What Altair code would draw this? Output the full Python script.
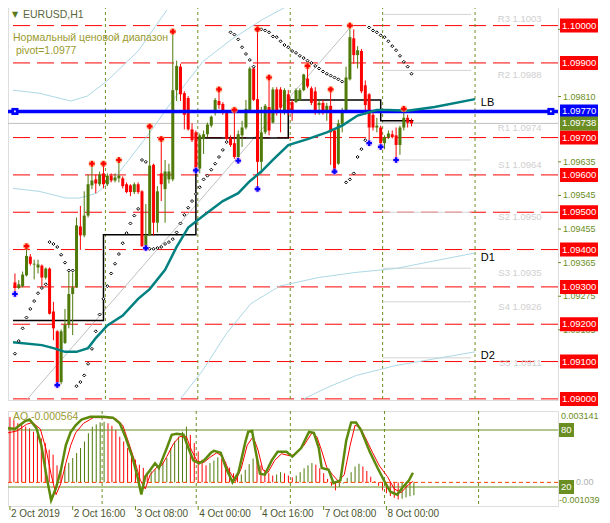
import altair as alt
import pandas as pd

OLIVE = "#6b8e23"
CGREEN = "#4f7a0a"
RED = "#ff0000"
FONT = "Liberation Sans"

# ---------------- candles (EURUSD H1, bar index 0 = 2 Oct 2019 00:00) ----------------
opens = [1.09312, 1.09297, 1.09302, 1.09331, 1.09381, 1.09360, 1.09352, 1.09357, 1.09325, 1.09349,
         1.09234, 1.09181, 1.09045, 1.09150, 1.09199, 1.09281, 1.09299, 1.09462, 1.09438, 1.09491,
         1.09572, 1.09588, 1.09575, 1.09604, 1.09575, 1.09598, 1.09585, 1.09591, 1.09591, 1.09575,
         1.09572, 1.09554, 1.09575, 1.09556, 1.09409, 1.09438, 1.09627, 1.09472, 1.09604, 1.09562,
         1.09588, 1.09588, 1.09827, 1.09890, 1.09819, 1.09806, 1.09722, 1.09714, 1.09617, 1.09696,
         1.09709, 1.09732, 1.09774, 1.09798, 1.09790, 1.09766, 1.09698, 1.09685, 1.09648, 1.09706,
         1.09727, 1.09772, 1.09885, 1.09803, 1.09635, 1.09714, 1.09782, 1.09740, 1.09829, 1.09829,
         1.09766, 1.09816, 1.09795, 1.09795, 1.09801, 1.09827, 1.09858, 1.09832, 1.09824, 1.09787,
         1.09793, 1.09766, 1.09785, 1.09719, 1.09630, 1.09735, 1.09772, 1.09856, 1.09966, 1.09921,
         1.09932, 1.09840, 1.09816, 1.09761, 1.09727, 1.09727, 1.09685, 1.09701, 1.09709, 1.09706,
         1.09680, 1.09727, 1.09753, 1.09745]
highs = [1.09336, 1.09318, 1.09341, 1.09409, 1.09388, 1.09373, 1.09373, 1.09360, 1.09352, 1.09352,
         1.09260, 1.09184, 1.09186, 1.09241, 1.09341, 1.09339, 1.09486, 1.09517, 1.09556, 1.09601,
         1.09630, 1.09601, 1.09609, 1.09630, 1.09604, 1.09604, 1.09604, 1.09640, 1.09596, 1.09580,
         1.09575, 1.09580, 1.09580, 1.09559, 1.09522, 1.09730, 1.09630, 1.09570, 1.09696, 1.09640,
         1.09630, 1.09984, 1.09906, 1.09898, 1.09824, 1.09811, 1.09738, 1.09719, 1.09711, 1.09719,
         1.09740, 1.09759, 1.09806, 1.09829, 1.09795, 1.09769, 1.09706, 1.09774, 1.09719, 1.09745,
         1.09801, 1.09890, 1.09890, 1.09990, 1.09782, 1.09790, 1.09861, 1.09835, 1.09835, 1.09835,
         1.09832, 1.09827, 1.09801, 1.09832, 1.09832, 1.09871, 1.09892, 1.09837, 1.09835, 1.09801,
         1.09801, 1.09793, 1.09829, 1.09722, 1.09748, 1.09780, 1.09890, 1.10000, 1.09990, 1.09945,
         1.09937, 1.09853, 1.09819, 1.09766, 1.09753, 1.09732, 1.09706, 1.09719, 1.09719, 1.09727,
         1.09732, 1.09777, 1.09761, 1.09751]
lows = [1.09281, 1.09294, 1.09299, 1.09328, 1.09357, 1.09320, 1.09336, 1.09302, 1.09320, 1.09226,
        1.09157, 1.09037, 1.09039, 1.09147, 1.09189, 1.09171, 1.09297, 1.09399, 1.09433, 1.09486,
        1.09562, 1.09551, 1.09570, 1.09564, 1.09570, 1.09580, 1.09580, 1.09580, 1.09564, 1.09551,
        1.09543, 1.09549, 1.09549, 1.09407, 1.09404, 1.09436, 1.09438, 1.09446, 1.09530, 1.09472,
        1.09577, 1.09583, 1.09798, 1.09798, 1.09722, 1.09719, 1.09688, 1.09612, 1.09604, 1.09656,
        1.09701, 1.09727, 1.09759, 1.09777, 1.09761, 1.09693, 1.09675, 1.09643, 1.09638, 1.09675,
        1.09722, 1.09769, 1.09798, 1.09562, 1.09604, 1.09709, 1.09706, 1.09738, 1.09759, 1.09714,
        1.09761, 1.09759, 1.09745, 1.09793, 1.09798, 1.09824, 1.09832, 1.09787, 1.09761, 1.09761,
        1.09761, 1.09745, 1.09627, 1.09609, 1.09627, 1.09714, 1.09769, 1.09853, 1.09898, 1.09885,
        1.09819, 1.09761, 1.09685, 1.09719, 1.09714, 1.09675, 1.09669, 1.09696, 1.09698, 1.09640,
        1.09654, 1.09719, 1.09727, 1.09730]
closes = [1.09297, 1.09307, 1.09333, 1.09383, 1.09362, 1.09362, 1.09360, 1.09325, 1.09349, 1.09228,
          1.09189, 1.09045, 1.09181, 1.09199, 1.09281, 1.09299, 1.09465, 1.09438, 1.09491, 1.09575,
          1.09585, 1.09577, 1.09601, 1.09575, 1.09598, 1.09585, 1.09593, 1.09598, 1.09570, 1.09554,
          1.09554, 1.09575, 1.09554, 1.09409, 1.09438, 1.09625, 1.09472, 1.09556, 1.09575, 1.09609,
          1.09609, 1.09827, 1.09892, 1.09816, 1.09761, 1.09722, 1.09693, 1.09617, 1.09706, 1.09709,
          1.09735, 1.09756, 1.09801, 1.09787, 1.09766, 1.09696, 1.09680, 1.09648, 1.09709, 1.09727,
          1.09777, 1.09885, 1.09801, 1.09635, 1.09714, 1.09785, 1.09719, 1.09829, 1.09766, 1.09780,
          1.09827, 1.09766, 1.09766, 1.09827, 1.09827, 1.09869, 1.09837, 1.09793, 1.09766, 1.09793,
          1.09766, 1.09785, 1.09714, 1.09614, 1.09738, 1.09772, 1.09861, 1.09969, 1.09921, 1.09934,
          1.09824, 1.09787, 1.09727, 1.09727, 1.09732, 1.09685, 1.09701, 1.09711, 1.09701, 1.09680,
          1.09727, 1.09753, 1.09740, 1.09738]
sar = [1.09121, 1.09155, 1.09189, 1.09218, 1.09241, 1.09262, 1.09283, 1.09297, 1.09307, 1.09420,
       1.09415, 1.09407, 1.09386, 1.09365, 1.09344, 1.09344, 1.09034, 1.09045, 1.09063, 1.09094,
       1.09134, 1.09181, 1.09226, 1.09268, 1.09302, 1.09336, 1.09362, 1.09388, 1.09417, 1.09444,
       1.09470, 1.09491, 1.09509, 1.09640, 1.09635, 1.09402, 1.09402, 1.09404, 1.09407, 1.09415,
       1.09420, 1.09428, 1.09446, 1.09470, 1.09493, 1.09512, 1.09530, 1.09549, 1.09567, 1.09588,
       1.09598, 1.09614, 1.09630, 1.09648, 1.09667, 1.09688, 1.09982, 1.09976, 1.09963, 1.09942,
       1.09924, 1.09908, 1.09890, 1.09992, 1.09990, 1.09987, 1.09982, 1.09971, 1.09969, 1.09958,
       1.09948, 1.09942, 1.09932, 1.09927, 1.09919, 1.09913, 1.09906, 1.09900, 1.09892, 1.09885,
       1.09877, 1.09871, 1.09866, 1.09861, 1.09856, 1.09850, 1.09580, 1.09588, 1.09604, 1.09648,
       1.09669, 1.09693, 1.09995, 1.09987, 1.09982, 1.09974, 1.09969, 1.09958, 1.09945, 1.09934,
       1.09919, 1.09903, 1.09890, 1.09871]
frac_up_idx = [3, 20, 23, 27, 35, 38, 41, 53, 57, 63, 66, 76, 82, 87, 101]
frac_dn_idx = [0, 11, 34, 47, 58, 63, 83, 92, 95, 99]

# AO histogram and stochastic
ao_vals = [0.00288, 0.00274, 0.00260, 0.00252, 0.00245, 0.00238, 0.00223, 0.00209, 0.00194, 0.00173,
           0.00144, 0.00122, 0.00075, 0.00049, 0.00071, 0.00086, 0.00107, 0.00129, 0.00151, 0.00180,
           0.00216, 0.00245, 0.00255, 0.00264, 0.00267, 0.00260, 0.00249, 0.00231, 0.00201, 0.00180,
           0.00151, 0.00129, 0.00100, 0.00078, 0.00064, 0.00042, 0.00049, 0.00057, 0.00071, 0.00086,
           0.00107, 0.00151, 0.00180, 0.00201, 0.00223, 0.00245, 0.00209, 0.00173, 0.00136, 0.00100,
           0.00075, 0.00085, 0.00096, 0.00110, 0.00104, 0.00090, 0.00065, 0.00040, 0.00028, 0.00035,
           0.00055, 0.00080, 0.00105, 0.00098, 0.00075, 0.00055, 0.00040, 0.00030, 0.00035, 0.00045,
           0.00040, 0.00030, 0.00022, 0.00030, 0.00045, 0.00062, 0.00075, 0.00085, 0.00078, 0.00062,
           0.00040, 0.00015, -0.00015, -0.00035, -0.00020, -0.00005, 0.00020, 0.00045, 0.00070, 0.00082,
           0.00070, 0.00050, 0.00025, 0.00005, -0.00015, -0.00035, -0.00048, -0.00060, -0.00068, -0.00075,
           -0.00072, -0.00066, -0.00061, -0.000564]
k_idx = [-0.5, 1.25, 3.75, 5, 6.75, 8, 9.25, 10.5, 11.75, 13, 14.25, 15.5, 16.75, 18.25, 20.5, 23.75,
         26.25, 28, 29.5, 31.25, 32.5, 33.5, 34.5, 35.75, 37, 38, 38.75, 40, 41.25, 42.5, 44.25, 45.5,
         46.75, 48.25, 49.5, 51.25, 52, 53.75, 55, 56.75, 58.25, 60, 60.75, 61.75, 62.5, 63.75, 65,
         66.75, 68.25, 70.5, 72, 74.25, 76.25, 77.5, 78.75, 79.5, 81.25, 82.5, 84.25, 85.75, 87, 88.25,
         89.5, 91.75, 93.75, 95.75, 97, 98.75, 100, 101.75, 102.75]
k_val = [82, 81, 89, 91, 82, 64, 33, 6, 19, 38, 64, 78, 85, 91, 94, 94,
         93, 87, 72, 51, 31, 12, 31, 38, 45, 40, 48, 61, 75, 76, 75, 61,
         48, 45, 48, 56, 58, 56, 41, 25, 35, 67, 78, 79, 61, 34, 33,
         48, 57, 57, 52, 61, 78, 77, 61, 40, 38, 24, 27, 69, 88, 88,
         80, 57, 40, 24, 15, 12, 19, 27, 35]
d_idx = [-0.5, 1.75, 4.25, 5.75, 7.75, 9.25, 10.5, 11.75, 13, 14.25, 15.5, 16.75, 18.75, 21.25, 24.5,
         27, 28.75, 30.25, 32, 33.25, 34.5, 35.75, 37.5, 38.75, 40, 41.75, 43.25, 45, 46.25, 47.75,
         49.5, 51.25, 52.75, 54.25, 55.75, 57.5, 59, 60.5, 62, 63.25, 64.5, 65.75, 67.5, 69.25, 71.25,
         72.75, 75, 77, 78.25, 79.5, 80.75, 82.25, 83.75, 85.25, 86.75, 88, 89.25, 90.5, 92.5, 94.25,
         96.25, 98, 99.75, 101.25, 102.75]
d_val = [77, 79, 86, 88, 81, 59, 33, 12, 24, 45, 64, 77, 87, 93, 93,
         92, 85, 67, 45, 27, 18, 33, 41, 43, 52, 66, 73, 73, 59, 47,
         46, 52, 56, 52, 38, 26, 40, 64, 73, 59, 38, 35, 48, 55, 53,
         54, 64, 77, 73, 58, 41, 33, 26, 33, 64, 85, 83, 73, 56, 42,
         31, 18, 14, 21, 26]

# overlays
ma_idx = [-0.5, 7, 10, 13, 16, 19, 21, 24, 28, 32, 35, 39, 42, 45, 49, 54, 58, 61, 64, 67, 71, 76,
          81, 85, 89, 94, 97, 102, 109, 119.5]
ma_val = [1.09152, 1.09144, 1.09136, 1.09126, 1.09126, 1.09136, 1.09163, 1.09197, 1.09223, 1.09268,
          1.09294, 1.09346, 1.09407, 1.09459, 1.09491, 1.09530, 1.09551, 1.09583, 1.09609, 1.09640,
          1.09680, 1.09696, 1.09714, 1.09732, 1.09759, 1.09774, 1.09774, 1.09772, 1.09782, 1.09803]
band_up_idx = [-0.5, 6.25, 14.5, 18.75, 23.75, 32, 39.5]
band_up_val = [1.09827, 1.09819, 1.09798, 1.09811, 1.09850, 1.09932, 1.10042]
band_mid_idx = [-0.5, 6.25, 13.25, 16.75, 21.25, 26.25, 34.5, 40.5, 48.75, 56.25, 64.25, 70]
band_mid_val = [1.09564, 1.09556, 1.09538, 1.09538, 1.09551, 1.09596, 1.09706, 1.09793, 1.09903,
                1.09963, 1.10016, 1.10048]
d1_idx = [43, 48.75, 55, 61.25, 68.75, 78.75, 88.75, 98.75, 119.5]
d1_val = [1.09000, 1.09076, 1.09176, 1.09255, 1.09302, 1.09325, 1.09339, 1.09349, 1.09391]
d2_idx = [75, 81.25, 88.75, 98.75, 119.5]
d2_val = [1.09000, 1.09031, 1.09063, 1.09089, 1.09126]
trend_idx = [3.25, 87.5]
trend_val = [1.09000, 1.10000]
step_idx = [-0.5, 23, 47, 71, 95, 103.5]
step_val = [1.09210, 1.09440, 1.09699, 1.09801, 1.09745, 1.09745]

red_levels = [1.10000, 1.09900, 1.09700, 1.09600, 1.09500, 1.09400, 1.09300, 1.09200, 1.09100, 1.09000]
lb_level = 1.09770
bid_level = 1.09738
pivot_names = ["R3", "R2", "R1", "S1", "S2", "S3", "S4", "S5"]
pivot_vals = [1.1003, 1.0988, 1.0974, 1.0964, 1.0950, 1.0935, 1.0926, 1.0911]
axis_ticks = [1.09990, 1.09810, 1.09635, 1.09545, 1.09455, 1.09365, 1.09275, 1.09185]
separators = [23.5, 47.5, 71.5, 95.5, 119.5]
time_ticks = [0, 16, 32, 48, 64, 80, 96]
time_labels = ["2 Oct 2019", "2 Oct 16:00", "3 Oct 08:00", "4 Oct 00:00", "4 Oct 16:00",
               "7 Oct 08:00", "8 Oct 00:00"]

# ---------------- layout ----------------
W, H1, H2 = 550, 394, 95
xs = alt.Scale(domain=[-0.5, 139.75], nice=False, zero=False)
ys = alt.Scale(domain=[1.08997, 1.100525], nice=False, zero=False)
aos = alt.Scale(domain=[-0.001039, 0.003141], nice=False, zero=False)
sts = alt.Scale(domain=[0, 100], nice=False, zero=False)
pxs = alt.Scale(domain=[0, H2], range=[0, H2])


def X(f="i"):
    return alt.X(f"{f}:Q", scale=xs, axis=None)


def Y(f, scale=ys):
    return alt.Y(f"{f}:Q", scale=scale, axis=None)


idx = list(range(len(opens)))
cdf = pd.DataFrame({"i": idx, "o": opens, "h": highs, "l": lows, "c": closes, "sar": sar})
cdf["dir"] = ["up" if c >= o else "down" for o, c in zip(opens, closes)]
cscale = alt.Scale(domain=["up", "down"], range=[CGREEN, RED])
ccol = alt.Color("dir:N", scale=cscale, legend=None)

lev_df = pd.DataFrame({"p": red_levels})
sep_df = pd.DataFrame({"s": separators})
piv_df = pd.DataFrame({"p": pivot_vals, "i0": [95.5] * 8, "i1": [118.5] * 8, "ix": [136.8] * 8,
                       "t": [f"{n} {v:.4f}" for n, v in zip(pivot_names, pivot_vals)]})

lines_rows = []
for g, ii, vv in [("up", band_up_idx, band_up_val), ("mid", band_mid_idx, band_mid_val),
                  ("d1", d1_idx, d1_val), ("d2", d2_idx, d2_val)]:
    for a, b in zip(ii, vv):
        lines_rows.append({"g": g, "i": a, "p": b})
lb_df = pd.DataFrame(lines_rows)
trend_df = pd.DataFrame({"i": trend_idx, "p": trend_val})
step_df = pd.DataFrame({"i": step_idx, "p": step_val})
ma_df = pd.DataFrame({"i": ma_idx, "p": ma_val})

fu_df = pd.DataFrame({"i": frac_up_idx, "p": [highs[k] for k in frac_up_idx]})
fd_df = pd.DataFrame({"i": frac_dn_idx, "p": [lows[k] for k in frac_dn_idx]})
tick_df = pd.DataFrame({"p": axis_ticks, "t": [f"{v:.5f}" for v in axis_ticks]})

layers = []
# right price scale (ticks + labels), drawn first so the level boxes cover some of them
layers.append(alt.Chart(tick_df).mark_rule(color=OLIVE, strokeWidth=1).encode(
    x=alt.value(W), x2=alt.value(W + 3), y=Y("p")))
layers.append(alt.Chart(tick_df).mark_text(align="left", baseline="middle", font=FONT, fontSize=9,
                                           color=OLIVE).encode(x=alt.value(W + 5), y=Y("p"), text="t:N"))
layers.append(alt.Chart(lev_df).mark_rule(color=RED, strokeWidth=1, strokeDash=[17, 7]).encode(y=Y("p")))
layers.append(alt.Chart(sep_df).mark_rule(color=OLIVE, strokeWidth=1, strokeDash=[3, 3]).encode(x=X("s")))
layers.append(alt.Chart(piv_df).mark_rule(color="#d3d3d3", strokeWidth=1).encode(
    x=X("i0"), x2="i1", y=Y("p")))
layers.append(alt.Chart(piv_df).mark_text(color="#cfcfcf", align="right", baseline="middle", dy=5,
                                          font=FONT, fontSize=9.5).encode(x=X("ix"), y=Y("p"), text="t:N"))
layers.append(alt.Chart(pd.DataFrame({"p": [bid_level]})).mark_rule(color="#c0c0c0", strokeWidth=1).encode(
    y=Y("p")))
layers.append(alt.Chart(lb_df).mark_line(color="#add8e6", strokeWidth=1).encode(
    x=X(), y=Y("p"), detail="g:N"))
layers.append(alt.Chart(trend_df).mark_line(color="#c0c0c0", strokeWidth=1).encode(x=X(), y=Y("p")))
layers.append(alt.Chart(step_df).mark_line(color="black", strokeWidth=1.5, interpolate="step-after").encode(
    x=X(), y=Y("p")))
layers.append(alt.Chart(cdf).mark_rule(strokeWidth=1).encode(x=X(), y=Y("l"), y2="h", color=ccol))
layers.append(alt.Chart(cdf).mark_bar(size=3).encode(x=X(), y=Y("o"), y2="c", color=ccol))
layers.append(alt.Chart(pd.DataFrame({"p": [lb_level]})).mark_rule(color="#0000ff", strokeWidth=3.5).encode(
    y=Y("p")))
sq_df = pd.DataFrame({"i": [0.0, 139.2], "p": [lb_level, lb_level]})
layers.append(alt.Chart(sq_df).mark_square(color="#0000ff", size=50, opacity=1).encode(x=X(), y=Y("p")))
layers.append(alt.Chart(sq_df).mark_square(color="white", size=3, opacity=1).encode(x=X(), y=Y("p")))
layers.append(alt.Chart(ma_df).mark_line(color="#008080", strokeWidth=2.5).encode(x=X(), y=Y("p")))
layers.append(alt.Chart(cdf).mark_point(shape="diamond", size=9, filled=True, fill="white", stroke="black",
                                        strokeWidth=1, opacity=1).encode(x=X(), y=Y("sar")))
layers.append(alt.Chart(fu_df).mark_circle(color="#ffa060", size=45, opacity=0.7).encode(x=X(), y=Y("p")))
layers.append(alt.Chart(fu_df).mark_point(shape="cross", filled=True, color=RED, size=30, opacity=1).encode(
    x=X(), y=Y("p")))
layers.append(alt.Chart(fd_df).mark_circle(color="#e0a0ff", size=45, opacity=0.7).encode(x=X(), y=Y("p")))
layers.append(alt.Chart(fd_df).mark_point(shape="cross", filled=True, color="#0000ff", size=30, opacity=1).encode(
    x=X(), y=Y("p")))

# line labels
lbl_df = pd.DataFrame({"i": [121.0, 121.0, 121.0], "p": [1.09793, 1.09378, 1.09115], "t": ["LB", "D1", "D2"]})
layers.append(alt.Chart(lbl_df).mark_text(align="left", baseline="middle", font=FONT, fontSize=11,
                                          color="black").encode(x=X(), y=Y("p"), text="t:N"))

# header texts
layers.append(alt.Chart(pd.DataFrame({"t": ["▼"]})).mark_text(
    align="left", baseline="middle", font="DejaVu Sans", fontSize=8, color="#5b7a1a").encode(
    x=alt.value(4), y=alt.value(9), text="t:N"))
layers.append(alt.Chart(pd.DataFrame({"t": ["EURUSD,H1"]})).mark_text(
    align="left", baseline="middle", font=FONT, fontSize=10.5, color="#5a6640").encode(
    x=alt.value(15), y=alt.value(9), text="t:N"))
layers.append(alt.Chart(pd.DataFrame({"t": ["Нормальный ценовой диапазон"]})).mark_text(
    align="left", baseline="middle", font=FONT, fontSize=10.5, color="#9a9a30").encode(
    x=alt.value(5), y=alt.value(32), text="t:N"))
layers.append(alt.Chart(pd.DataFrame({"t": ["pivot=1.0977"]})).mark_text(
    align="left", baseline="middle", font=FONT, fontSize=10.5, color="#9a9a30").encode(
    x=alt.value(8), y=alt.value(45), text="t:N"))

# right-side price boxes
box_rows = [{"p": v, "t": f"{v:.5f}", "c": RED} for v in red_levels]
box_rows.append({"p": lb_level, "t": f"{lb_level:.5f}", "c": "#0000ff"})
box_rows.append({"p": bid_level, "t": f"{bid_level:.5f}", "c": OLIVE})
box_df = pd.DataFrame(box_rows)
layers.append(alt.Chart(box_df).mark_rect(yOffset=-7, y2Offset=7).encode(
    x=alt.value(W + 2), x2=alt.value(W + 40), y=Y("p"), y2="p",
    color=alt.Color("c:N", scale=None)))
layers.append(alt.Chart(box_df).mark_text(align="left", baseline="middle", font=FONT, fontSize=9.5,
                                          color="white").encode(
    x=alt.value(W + 4), y=Y("p"), text="t:N"))

main = alt.layer(*layers).properties(width=W, height=H1)

# ---------------- AO / stochastic panel ----------------
ao_df = pd.DataFrame({"i": idx, "ao": ao_vals, "z": [0.0] * len(idx)})
ao_df["dir"] = ["up" if (k > 0 and ao_vals[k] > ao_vals[k - 1]) else "down" for k in idx]
tt_df = pd.DataFrame({"i": time_ticks, "t": time_labels})

alay = []
alay.append(alt.Chart(sep_df).mark_rule(color=OLIVE, strokeWidth=1, strokeDash=[3, 3]).encode(x=X("s")))
alay.append(alt.Chart(ao_df).mark_rule(strokeWidth=1).encode(x=X(), y=Y("z", aos), y2="ao", color=ccol))
alay.append(alt.Chart(pd.DataFrame({"z": [0.0]})).mark_rule(color="#ff4500", strokeWidth=1,
                                                            strokeDash=[4, 3]).encode(y=Y("z", aos)))
alay.append(alt.Chart(pd.DataFrame({"v": [80, 20]})).mark_rule(color=OLIVE, strokeWidth=1).encode(
    y=Y("v", sts)))
alay.append(alt.Chart(pd.DataFrame({"i": d_idx, "v": d_val})).mark_line(color=RED, strokeWidth=1).encode(
    x=X(), y=Y("v", sts)))
alay.append(alt.Chart(pd.DataFrame({"i": k_idx, "v": k_val})).mark_line(color="#5e8a0c", strokeWidth=2.5).encode(
    x=X(), y=Y("v", sts)))
alay.append(alt.Chart(pd.DataFrame({"t": ["AO -0.000564"]})).mark_text(
    align="left", baseline="middle", font=FONT, fontSize=10.5, color="#9a9a30").encode(
    x=alt.value(5), y=alt.value(6), text="t:N"))
# time axis (ticks + labels)
alay.append(alt.Chart(tt_df).mark_rule(color=OLIVE, strokeWidth=1).encode(
    x=X(), y=alt.value(H2), y2=alt.value(H2 + 4)))
alay.append(alt.Chart(tt_df).mark_text(align="left", baseline="top", font=FONT, fontSize=10,
                                       color="#4a5530", dx=1).encode(
    x=X(), y=alt.value(H2 + 3), text="t:N"))
right_txt = pd.DataFrame({"t": ["0.003141", "0.00", "-0.001039"], "y": [5, 71, 89],
                          "x": [W + 3, W + 18, W + 1], "c": [OLIVE, "#b0b0b0", OLIVE]})
alay.append(alt.Chart(right_txt).mark_text(align="left", baseline="middle", font=FONT, fontSize=9).encode(
    x=alt.X("x:Q", scale=alt.Scale(domain=[0, W], range=[0, W]), axis=None),
    y=alt.Y("y:Q", scale=pxs, axis=None),
    text="t:N", color=alt.Color("c:N", scale=None)))
lvl_box = pd.DataFrame({"v": [80, 20], "t": ["80", "20"]})
alay.append(alt.Chart(lvl_box).mark_rect(color=OLIVE, yOffset=-7, y2Offset=7).encode(
    x=alt.value(W + 1), x2=alt.value(W + 16), y=Y("v", sts), y2="v"))
alay.append(alt.Chart(lvl_box).mark_text(align="left", baseline="middle", font=FONT, fontSize=9.5,
                                         color="white").encode(
    x=alt.value(W + 3), y=Y("v", sts), text="t:N"))

aop = alt.layer(*alay).resolve_scale(y="independent", x="independent").properties(width=W, height=H2)

chart = alt.vconcat(main, aop, spacing=3).properties(
    padding={"left": -6, "top": -3, "right": 0, "bottom": 0},
    autosize=alt.AutoSizeParams(type="pad")).configure_view(
    stroke=OLIVE, strokeWidth=1).configure(background="white")

chart.save("out.html", embed_options={"renderer": "svg", "actions": False})
